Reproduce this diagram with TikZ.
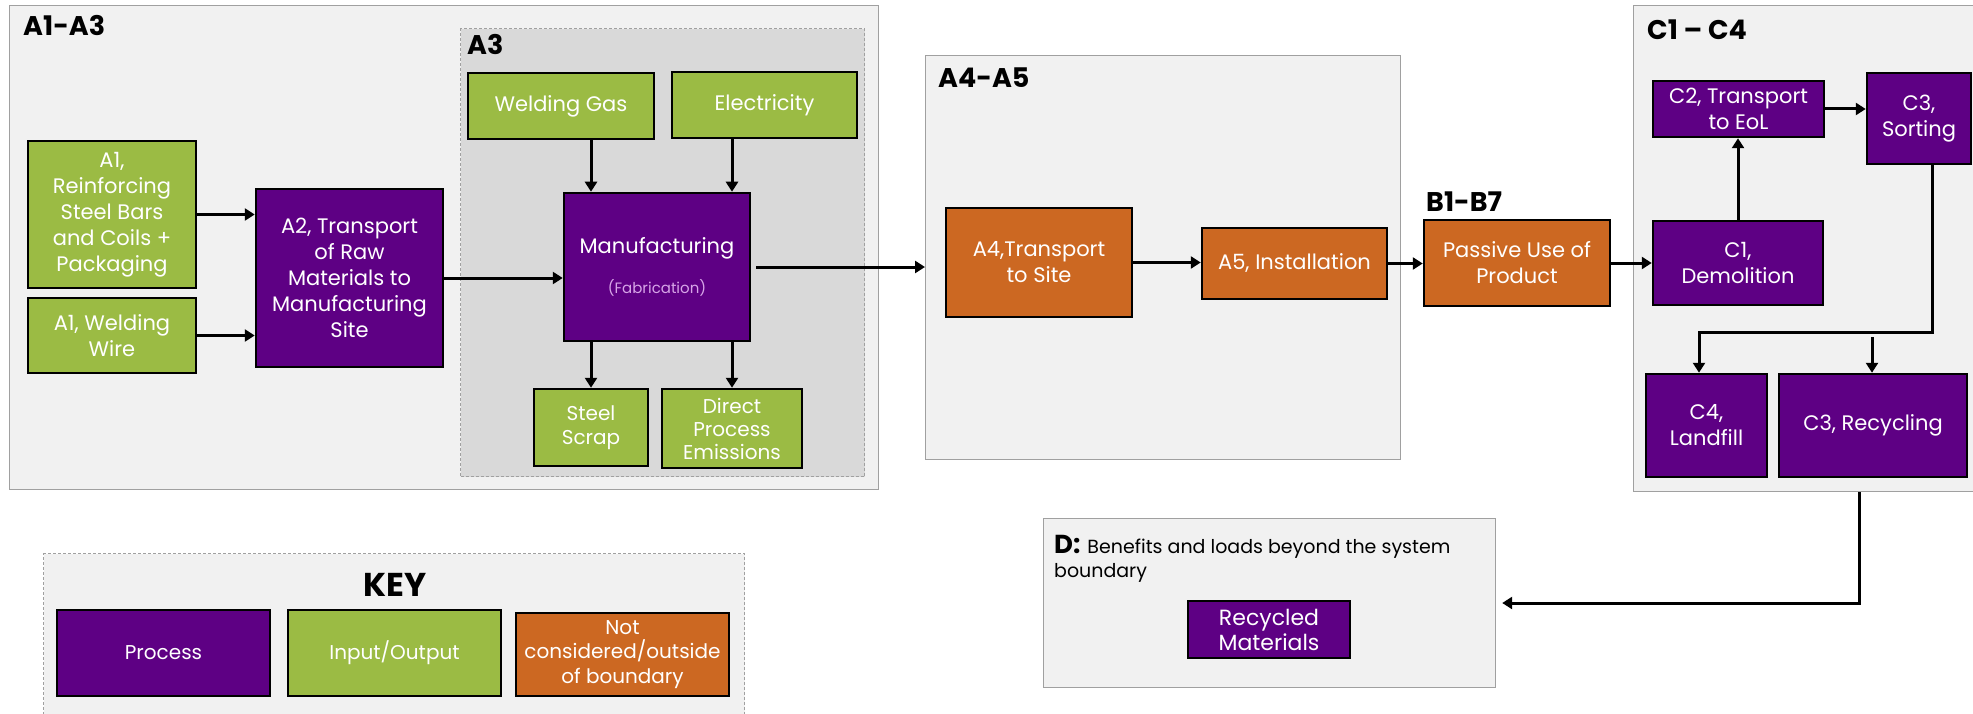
\documentclass[tikz,border=0pt]{standalone}
\usepackage{fontspec}
\setmainfont{Poppins}
\usetikzlibrary{arrows.meta,calc}
\definecolor{purp}{RGB}{94,0,132}
\definecolor{grn}{RGB}{155,187,68}
\definecolor{orng}{RGB}{204,104,34}
\definecolor{rfill}{RGB}{241,241,241}
\definecolor{a3fill}{RGB}{217,217,217}
\definecolor{rgray}{RGB}{160,160,160}
\definecolor{fabc}{RGB}{215,165,232}
\tikzset{
 box/.style={draw=black, line width=2.5pt, text=white, align=center, inner sep=0pt, font=\fontsize{21}{26}\selectfont},
 proc/.style={box, fill=purp},
 io/.style={box, fill=grn},
 ext/.style={box, fill=orng},
 region/.style={draw=rgray, line width=1.2pt, fill=rfill, anchor=north west, inner sep=0pt},
 dregion/.style={region, dash pattern=on 3pt off 2pt},
 arr/.style={line width=3pt, -{Triangle[length=10pt,width=12pt]}},
 title/.style={font=\bfseries\fontsize{27}{30}\selectfont, anchor=base west, inner sep=0pt},
}
\begin{document}
\begin{tikzpicture}[x=1pt,y=-1pt]
\useasboundingbox[fill=white] (0,0) rectangle (1973,714);
% regions
\node[region, minimum width=869pt, minimum height=484pt] (r13) at (9,5) {};
\node[dregion, fill=a3fill, minimum width=404pt, minimum height=448pt] (r3) at (460,28) {};
\node[region, minimum width=475pt, minimum height=404pt] (a45) at (925,55) {};
\node[region, minimum width=345pt, minimum height=486pt] (c14) at (1633,5) {};
\node[region, minimum width=452pt, minimum height=169pt] (dbox) at (1043,518) {};
\node[dregion, minimum width=701pt, minimum height=180pt] (keybox) at (43,553) {};
% titles
\node[title] (t13) at (23,36) {A1-A3};
\node[title] (t3) at (467,55) {A3};
\node[title] (t45) at (938,88) {A4-A5};
\node[title] (tb) at (1426,212) {B1-B7};
\node[title] (tc) at (1647,40) {C1 – C4};
\node[font=\bfseries\fontsize{33}{36}\selectfont, anchor=base, inner sep=0pt] (tkey) at (395,596) {KEY};
\node[anchor=base west, inner sep=0pt] (td) at (1054,553) {{\bfseries\fontsize{26}{28}\selectfont D:}\hspace{7pt}{\fontsize{19}{22}\selectfont Benefits and loads beyond the system}};
\node[anchor=base west, inner sep=0pt, font=\fontsize{19}{22}\selectfont] (td2) at (1054,577) {boundary};
% A1-A3
\node[io, minimum width=168pt, minimum height=147pt] (a1r) at (112,214.5) {A1,\\Reinforcing\\Steel Bars\\and Coils +\\Packaging};
\node[io, minimum width=168pt, minimum height=75pt] (a1w) at (112,335.5) {A1, Welding\\Wire};
\node[proc, minimum width=187pt, minimum height=178pt] (a2) at (349.5,278) {A2, Transport\\of Raw\\Materials to\\Manufacturing\\Site};
\node[io, minimum width=186pt, minimum height=66pt] (wg) at (561,106) {Welding Gas};
\node[io, minimum width=185pt, minimum height=66pt] (el) at (764.5,105) {Electricity};
\node[proc, minimum width=186pt, minimum height=148pt] (mf) at (657,267) {Manufacturing\\[14pt]{\color{fabc}\fontsize{15}{17}\selectfont (Fabrication)}};
\node[io, minimum width=114pt, minimum height=77pt, font=\fontsize{20}{24}\selectfont] (ss) at (591,427.5) {Steel\\Scrap};
\node[io, minimum width=140pt, minimum height=79pt, font=\fontsize{20}{23}\selectfont] (dpe) at (732,428.5) {Direct\\Process\\Emissions};
% A4-A5, B
\node[ext, minimum width=186pt, minimum height=109pt] (a4) at (1039,262.5) {A4,Transport\\to Site};
\node[ext, minimum width=185pt, minimum height=71pt] (a5) at (1294.5,263.5) {A5, Installation};
\node[ext, minimum width=186pt, minimum height=86pt] (pu) at (1517,263) {Passive Use of\\Product};
% C
\node[proc, minimum width=171pt, minimum height=56pt] (c2) at (1738.5,109) {C2, Transport\\to EoL};
\node[proc, minimum width=104pt, minimum height=91pt] (c3s) at (1919,118.5) {C3,\\Sorting};
\node[proc, minimum width=170pt, minimum height=84pt] (c1) at (1738,263) {C1,\\Demolition};
\node[proc, minimum width=121pt, minimum height=103pt] (c4) at (1706.5,425.5) {C4,\\Landfill};
\node[proc, minimum width=188pt, minimum height=103pt] (c3r) at (1873,425.5) {C3, Recycling};
% D
\node[proc, minimum width=162pt, minimum height=57pt, font=\fontsize{22}{25}\selectfont] (rm) at (1269,629.5) {Recycled\\Materials};
% key
\node[proc, minimum width=213pt, minimum height=86pt, font=\fontsize{20}{24.5}\selectfont] (kp) at (163.5,653) {Process};
\node[io, minimum width=213pt, minimum height=86pt, font=\fontsize{20}{24.5}\selectfont] (kio) at (394.5,653) {Input/Output};
\node[ext, minimum width=213pt, minimum height=83pt, font=\fontsize{20}{24.5}\selectfont] (knc) at (622.5,654.5) {Not\\considered/outside\\of boundary};
% connectors
\draw[arr] (a1r.east) -- (a1r.east -| a2.west);
\draw[arr] (a1w.east) -- (a1w.east -| a2.west);
\draw[arr] (a2.east) -- (a2.east -| mf.west);
\draw[arr] (wg.south -| ss.north) -- (mf.north -| ss.north);
\draw[arr] (el.south -| dpe.north) -- (mf.north -| dpe.north);
\draw[arr] (mf.south -| ss.north) -- (ss.north);
\draw[arr] (mf.south -| dpe.north) -- (dpe.north);
\draw[arr, shorten <=5pt] (mf.east) -- (mf.east -| a45.west);
\draw[arr] (a4.east) -- (a4.east -| a5.west);
\draw[arr] (a5.east) -- (a5.east -| pu.west);
\draw[arr] (pu.east) -- (pu.east -| c1.west);
\draw[arr] (c1.north) -- (c1.north |- c2.south);
\draw[arr] (c2.east) -- (c2.east -| c3s.west);
\coordinate (j1) at (1932,332);
\coordinate (j2) at (1699,332);
\coordinate (j3) at (1872,337);
\coordinate (j4) at (1859,603);
\draw[arr] (c3s.south -| j1) -- (j1) -- (j2) -- (j2 |- c4.north);
\draw[arr] (j3) -- (j3 |- c3r.north);
\draw[arr, shorten >=6pt] (c14.south -| j4) -- (j4) -- (j4 -| dbox.east);
\end{tikzpicture}
\end{document}
